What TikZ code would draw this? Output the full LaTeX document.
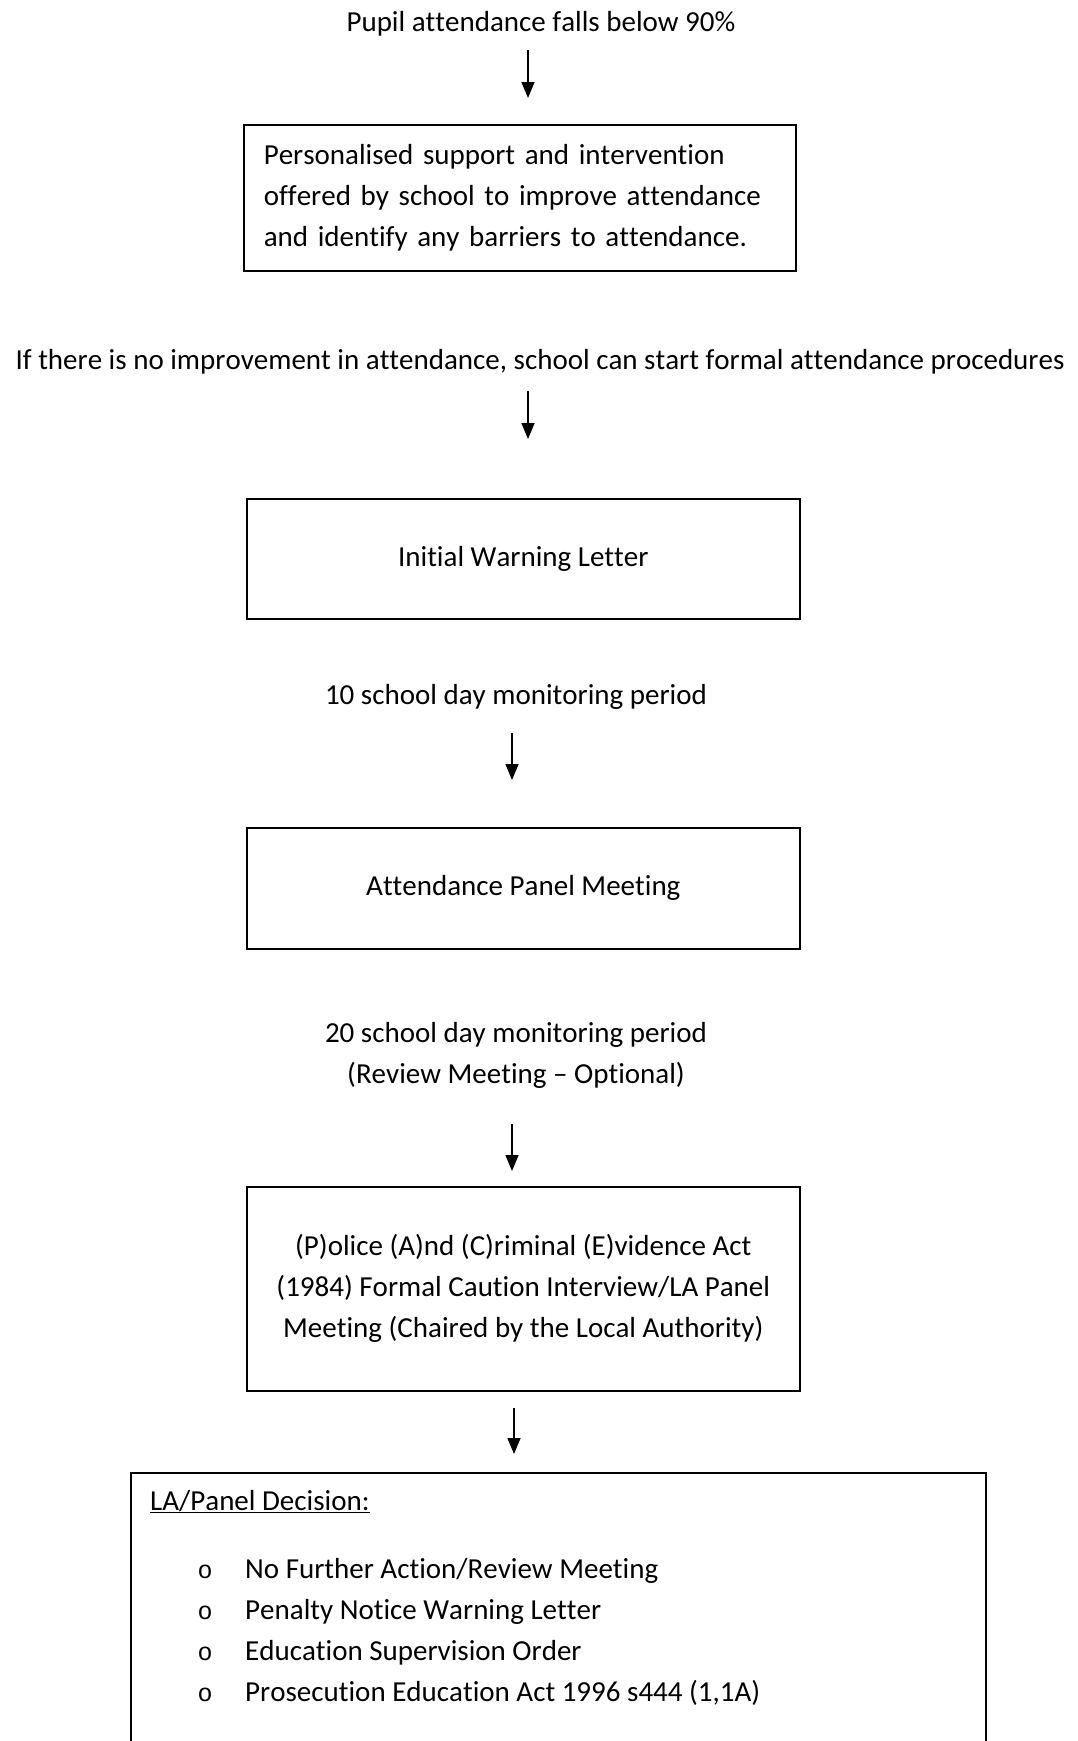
\documentclass[tikz,border=0pt]{standalone}
\usepackage{fontspec}
\setmainfont{Carlito}[Ligatures={NoCommon},Kerning=Off]
\newfontfamily\bulletfont{Liberation Mono}
\usetikzlibrary{arrows.meta}
\begin{document}
\begin{tikzpicture}[x=1pt,y=-1pt,
  txt/.style={font=\fontsize{29}{41}\selectfont, inner sep=0pt},
  box/.style={draw, line width=1.6pt, inner sep=0pt},
  bul/.style={font=\fontsize{25}{41}\bulletfont, inner sep=0pt},
  arr/.style={line width=1.5pt, -{Triangle[width=13pt,length=16pt]}}]
\useasboundingbox (0,0) rectangle (1078,1741);
\fill[white] (0,0) rectangle (1078,1741);

% free texts
\node[txt, anchor=base] (t1) at (541,31) {Pupil attendance falls below 90\%};
\node[txt, anchor=base] (t2) at (540,369) {If there is no improvement in attendance, school can start formal attendance procedures};
\node[txt, anchor=base] (t3) at (516,704) {10 school day monitoring period};
\node[txt, anchor=base] (t4a) at (516,1042) {20 school day monitoring period};
\node[txt, anchor=base] (t4b) at (516,1083) {(Review Meeting -- Optional)};

% boxes
\node[box, txt, minimum width=552, minimum height=146, text width=512, align=left, anchor=north west] (b1) at (243,124)
  {Personalised support and intervention\\ offered by school to improve attendance\\ and identify any barriers to attendance.};
\node[box, txt, minimum width=553, minimum height=120, anchor=north west] (b2) at (246,498) {Initial Warning Letter};
\node[box, txt, minimum width=553, minimum height=121, anchor=north west] (b3) at (246,827) {Attendance Panel Meeting};
\node[box, txt, minimum width=553, minimum height=204, align=center, anchor=north west] (b4) at (246,1186)
  {(P)olice (A)nd (C)riminal (E)vidence Act\\ (1984) Formal Caution Interview/LA Panel\\ Meeting (Chaired by the Local Authority)};
\node[box, minimum width=855, minimum height=300, anchor=north west] (b5) at (130,1472) {};

% contents of last box
\node[txt, anchor=base west] (h5) at (150,1510) {\underline{LA/Panel Decision:}};
\node[bul, anchor=base] (o1) at (205,1578) {o};
\node[bul, anchor=base] (o2) at (205,1619) {o};
\node[bul, anchor=base] (o3) at (205,1660) {o};
\node[bul, anchor=base] (o4) at (205,1701) {o};
\node[txt, anchor=base west] (i1) at (245,1578) {No Further Action/Review Meeting};
\node[txt, anchor=base west] (i2) at (245,1619) {Penalty Notice Warning Letter};
\node[txt, anchor=base west] (i3) at (245,1660) {Education Supervision Order};
\node[txt, anchor=base west] (i4) at (245,1701) {Prosecution Education Act 1996 s444 (1,1A)};

% arrows
\coordinate (a1s) at (528,50);   \coordinate (a1e) at (528,98);
\coordinate (a2s) at (528,391);  \coordinate (a2e) at (528,439);
\coordinate (a3s) at (512,733);  \coordinate (a3e) at (512,780);
\coordinate (a4s) at (512,1124); \coordinate (a4e) at (512,1171);
\coordinate (a5s) at (514,1408); \coordinate (a5e) at (514,1454);
\draw[arr] (a1s) -- (a1e);
\draw[arr] (a2s) -- (a2e);
\draw[arr] (a3s) -- (a3e);
\draw[arr] (a4s) -- (a4e);
\draw[arr] (a5s) -- (a5e);
\end{tikzpicture}
\end{document}
